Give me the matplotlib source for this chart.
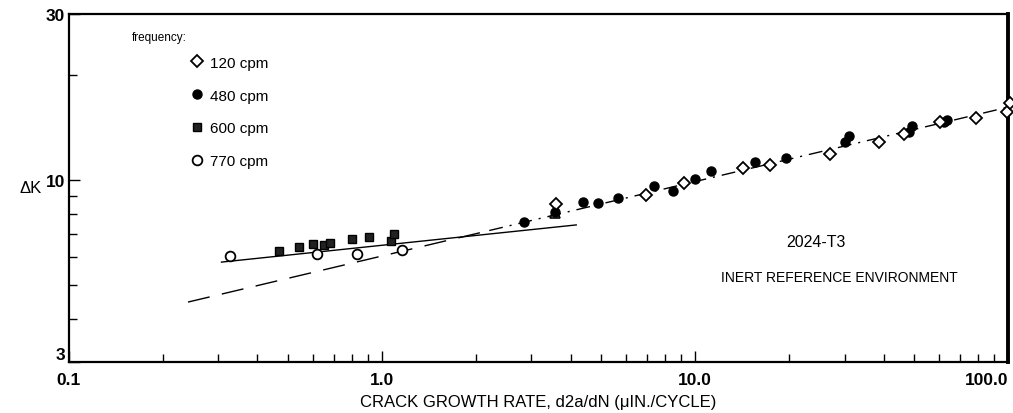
import numpy as np
import matplotlib.pyplot as plt
from matplotlib.ticker import FixedLocator, NullFormatter

plt.rcParams['font.family'] = ['Liberation Sans Narrow', 'Liberation Sans', 'DejaVu Sans']

# crack growth rate (uin/cycle) vs delta K, by loading frequency
rate_120 = [3.60, 6.99, 9.18, 14.2, 17.4, 26.9, 38.7, 46.5, 60.6, 79.0, 99.3, 101.6]
dk_120 = [8.53, 9.06, 9.80, 10.8, 11.04, 11.9, 12.9, 13.6, 14.7, 15.1, 15.7, 16.7]

rate_480 = [2.84, 3.57, 4.39, 4.91, 5.69, 7.41, 8.47, 9.96, 11.2, 15.5, 19.5,
            30.1, 31.0, 48.2, 49.3, 62.4, 63.8]
dk_480 = [7.59, 8.10, 8.65, 8.58, 8.87, 9.6, 9.3, 10.1, 10.6, 11.3, 11.6,
          12.9, 13.4, 13.7, 14.3, 14.7, 14.9]

rate_600 = [0.467, 0.541, 0.600, 0.651, 0.681, 0.800, 0.906, 1.066, 1.090]
dk_600 = [6.27, 6.41, 6.55, 6.50, 6.60, 6.77, 6.87, 6.68, 7.01]

rate_770 = [0.328, 0.618, 0.830, 1.156]
dk_770 = [6.05, 6.13, 6.13, 6.30]

# odd point drawn as a triangle
rate_tri = [3.56]
dk_tri = [8.05]

# fitted lines (end points)
fit_low_x = [0.307, 4.17]
fit_low_y = [5.81, 7.43]
fit_dash_x = [0.24, 2.2]
fit_dash_y = [4.46, 7.16]
fit_dashdot_x = [2.2, 100.0]
fit_dashdot_y = [7.16, 16.2]

fig = plt.figure(figsize=(10.13, 4.14), dpi=100)
ax = fig.add_axes([0.0681, 0.1232, 0.9272, 0.8406])
ax.set_xscale('log')
ax.set_yscale('log')
ax.set_xlim(0.1, 100)
ax.set_ylim(3, 30)

ax.plot(fit_low_x, fit_low_y, color='black', lw=1.0)
ax.plot(fit_dash_x, fit_dash_y, color='black', lw=1.0, dashes=(16, 9))
ax.plot(fit_dashdot_x, fit_dashdot_y, color='black', lw=1.0, dashes=(10, 5, 1.5, 5))

ax.plot(rate_120, dk_120, ls='none', marker='D', ms=6.5, mfc='white', mec='black',
        mew=1.3, label='120 cpm', clip_on=False, zorder=4)
ax.plot(rate_480, dk_480, ls='none', marker='o', ms=6.5, mfc='black', mec='black',
        label='480 cpm', zorder=3)
ax.plot(rate_600, dk_600, ls='none', marker='s', ms=5.5, mfc='#222222', mec='black',
        label='600 cpm', zorder=3)
ax.plot(rate_770, dk_770, ls='none', marker='o', ms=7, mfc='white', mec='black',
        mew=1.3, label='770 cpm', zorder=3)
ax.plot(rate_tri, dk_tri, ls='none', marker='^', ms=7, mfc='none', mec='black',
        mew=1.2, zorder=4)

for s in ['left', 'bottom', 'top']:
    ax.spines[s].set_linewidth(1.6)
ax.spines['right'].set_linewidth(2.8)

ax.xaxis.set_major_locator(FixedLocator([0.1, 1, 10, 100]))
ax.set_xticklabels(['0.1', '1.0', '10.0', '100.0'])
ax.xaxis.set_minor_locator(FixedLocator(
    [m * d for d in (0.1, 1, 10) for m in range(2, 10)]))
ax.xaxis.set_minor_formatter(NullFormatter())
ax.yaxis.set_major_locator(FixedLocator([3, 10, 30]))
ax.set_yticklabels(['3', '10', '30'])
ax.yaxis.set_minor_locator(FixedLocator([4, 5, 6, 7, 8, 9, 20]))
ax.yaxis.set_minor_formatter(NullFormatter())
ax.tick_params(which='both', direction='in', top=False, right=False, width=1.0)
ax.tick_params(which='major', length=8, labelsize=12.5)
ax.tick_params(axis='x', which='major', pad=7)
ax.tick_params(axis='y', which='major', pad=3)
ax.tick_params(which='minor', length=6)
for lab in ax.get_xticklabels() + ax.get_yticklabels():
    lab.set_fontweight('bold')
ax.get_xticklabels()[-1].set_horizontalalignment('right')
ax.get_xticklabels()[-1].set_x(100)
ax.get_yticklabels()[0].set_verticalalignment('bottom')

ax.set_xlabel('CRACK GROWTH RATE, d2a/dN (\u03bcIN./CYCLE)', fontsize=12, labelpad=5)
ax.set_ylabel('\u0394K', fontsize=12, rotation=0, labelpad=11, va='center')

ax.text(0.067, 0.934, 'frequency:', transform=ax.transAxes, fontsize=8.5, va='center')
ax.legend(loc='upper left', bbox_to_anchor=(0.128, 0.88), frameon=False,
          fontsize=11, handlelength=1.0, handletextpad=0.35, labelspacing=1.23,
          borderpad=0, borderaxespad=0)

ax.text(0.795, 0.345, '2024-T3', transform=ax.transAxes, fontsize=11.5, ha='center', va='center')
ax.text(0.820, 0.244, 'INERT REFERENCE ENVIRONMENT', transform=ax.transAxes,
        fontsize=10, ha='center', va='center')

fig.savefig('out.png', dpi=100)
